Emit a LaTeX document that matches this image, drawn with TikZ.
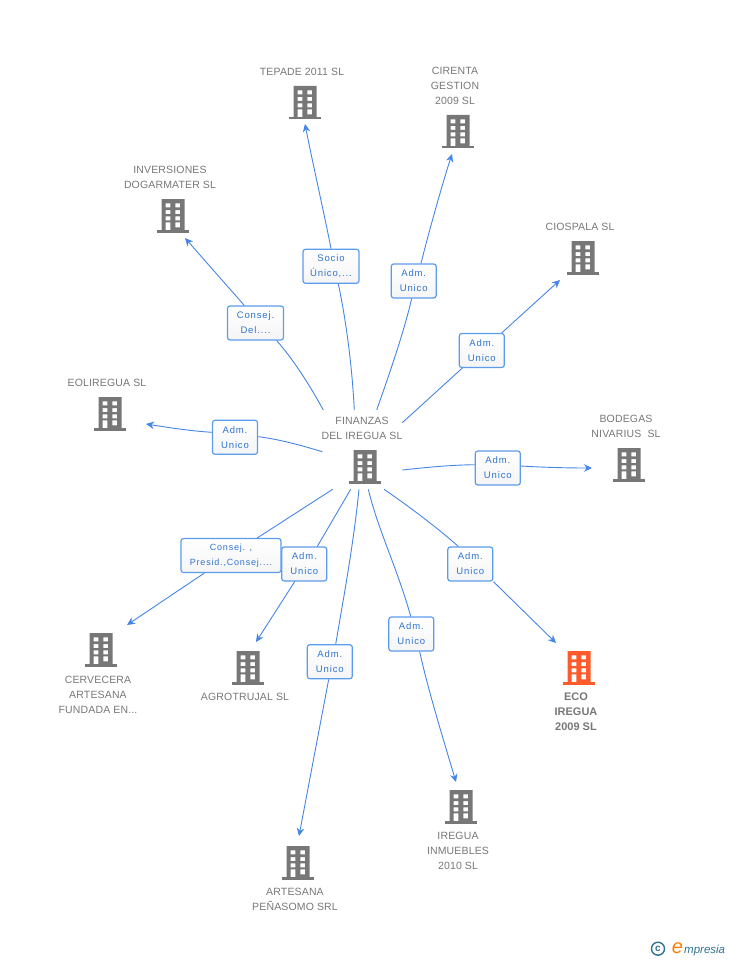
\documentclass[tikz,border=0pt]{standalone}
\usepackage{fontspec}
\setmainfont{Liberation Sans}
\newfontfamily\boxfont[LetterSpace=9]{Liberation Sans}
\newfontfamily\lblfont[LetterSpace=1.5]{Liberation Sans}
\usetikzlibrary{arrows.meta}
\definecolor{linkblue}{HTML}{4585E6}
\definecolor{boxblue}{HTML}{5C9CEC}
\definecolor{boxtext}{HTML}{2F74D0}
\definecolor{bldgray}{HTML}{777777}
\definecolor{bldorange}{HTML}{FF5A2B}
\definecolor{logoteal}{HTML}{2F7390}
\newcommand{\bldshape}[1]{%
  \fill[#1,even odd rule,shift={(path picture bounding box.center)}]
    (-11.5,-17) rectangle (11.5,14.5)
    (-7.3,-12.7) rectangle (-2.7,-8.7) (2.3,-12.7) rectangle (7,-8.7)
    (-7.3,-6) rectangle (-2.7,-2) (2.3,-6) rectangle (7,-2)
    (-7.3,0.3) rectangle (-2.7,4.3) (2.3,0.3) rectangle (7,4.3)
    (-7.3,6.3) rectangle (-2.7,14.5) (2.3,6.3) rectangle (7,11.3);
  \fill[#1,shift={(path picture bounding box.center)}] (-16,14) rectangle (16,16.5);
}
\tikzset{
  bld/.style={minimum width=33pt,minimum height=34pt,inner sep=0pt,path picture={\bldshape{#1}}},
  bld/.default=bldgray,
  lbl/.style={align=center,inner sep=0pt,text=bldgray,font=\lblfont\fontsize{10.5}{15}\selectfont},
  rel/.style={draw=boxblue,line width=1.2pt,rounded corners=2.5pt,top color=white,bottom color=black!4,
    text=boxtext,align=center,inner sep=0pt,minimum height=34pt,minimum width=45pt,
    font=\boxfont\fontsize{9.5}{15}\selectfont,execute at begin node={\vspace*{3pt}}},
  link/.style={draw=linkblue,line width=0.9pt},
  linkarr/.style={link,-{Stealth[length=8pt,width=7.5pt]}}
}
\begin{document}
\begin{tikzpicture}[x=1pt,y=-1pt]
\path[use as bounding box] (0,0) rectangle (728,960);
% Companies
\node[bld] (finanzas) at (365,467) {};
\node[bld] (tepade) at (305,103) {};
\node[bld] (cirenta) at (458,132) {};
\node[bld] (ciospala) at (583,258) {};
\node[bld] (bodegas) at (629,465) {};
\node[bld=bldorange] (eco) at (579,668) {};
\node[bld] (irregua) at (461,807) {};
\node[bld] (artesana) at (298,863) {};
\node[bld] (agrotrujal) at (248,668) {};
\node[bld] (cervecera) at (101,650) {};
\node[bld] (eoliregua) at (110,414) {};
\node[bld] (inversiones) at (173,216) {};
% Names
\node[lbl] (finanzasName) at (362,428.5) {FINANZAS\\DEL IREGUA SL};
\node[lbl] (tepadeName) at (302,72) {TEPADE 2011 SL};
\node[lbl] (cirentaName) at (455,86) {CIRENTA\\GESTION\\2009 SL};
\node[lbl] (ciospalaName) at (580,227) {CIOSPALA SL};
\node[lbl] (bodegasName) at (626,426.5) {BODEGAS\\NIVARIUS\ \ SL};
\node[lbl,font=\fontsize{11}{15}\selectfont\bfseries] (ecoName) at (576,712) {ECO\\IREGUA\\2009 SL};
\node[lbl] (irreguaName) at (458,851) {IREGUA\\INMUEBLES\\2010 SL};
\node[lbl] (artesanaName) at (295,899.5) {ARTESANA\\PEÑASOMO SRL};
\node[lbl] (agrotrujalName) at (245,697) {AGROTRUJAL SL};
\node[lbl] (cerveceraName) at (98,694.5) {CERVECERA\\ARTESANA\\FUNDADA EN...};
\node[lbl] (eolireguaName) at (107,383) {EOLIREGUA SL};
\node[lbl] (inversionesName) at (170,177.5) {INVERSIONES\\DOGARMATER SL};
% Relations
\node[rel,minimum width=56pt] (relTepade) at (331,266.3) {Socio\\Único,...};
\node[rel] (relCirenta) at (413.7,281) {Adm.\\Unico};
\node[rel] (relCiospala) at (481.8,350.5) {Adm.\\Unico};
\node[rel] (relBodegas) at (497.8,468) {Adm.\\Unico};
\node[rel] (relEco) at (470.3,564) {Adm.\\Unico};
\node[rel] (relIrregua) at (411.3,634) {Adm.\\Unico};
\node[rel] (relArtesana) at (329.8,661.7) {Adm.\\Unico};
\node[rel] (relAgrotrujal) at (304.3,564) {Adm.\\Unico};
\node[rel,minimum width=100pt,font=\boxfont\fontsize{9}{15}\selectfont] (relCervecera) at (231,555.5) {Consej. ,\\Presid.,Consej....};
\node[rel] (relEoliregua) at (235,437.3) {Adm.\\Unico};
\node[rel,minimum width=56pt] (relInversiones) at (255.5,323) {Consej.\\Del....};
% Arrow tips
\coordinate (tipTepade) at (305,124);
\coordinate (tipCirenta) at (452,154);
\coordinate (tipCiospala) at (560,280);
\coordinate (tipBodegas) at (592,468);
\coordinate (tipEco) at (556,643);
\coordinate (tipIrregua) at (456,782);
\coordinate (tipArtesana) at (299,836);
\coordinate (tipAgrotrujal) at (256,642);
\coordinate (tipCervecera) at (127,625);
\coordinate (tipEoliregua) at (146,424);
\coordinate (tipInversiones) at (185,238);
% Lines from the centre company
\coordinate (hubTepade) at (354.3,410);
\coordinate (hubCirenta) at (376.7,410);
\coordinate (hubCiospala) at (402.3,422.7);
\coordinate (hubBodegas) at (402.3,470);
\coordinate (hubEco) at (384,489.3);
\coordinate (hubIrregua) at (368.3,489.3);
\coordinate (hubArtesana) at (359,489.3);
\coordinate (hubAgrotrujal) at (350.7,489.3);
\coordinate (hubCervecera) at (332.7,489.3);
\coordinate (hubEoliregua) at (322.3,451.7);
\coordinate (hubInversiones) at (323.3,410);
\draw[link] (hubTepade) .. controls (352,365) and (346,320) .. (relTepade.south -| 338.3,0);
\draw[link] (hubCirenta) .. controls (390,372) and (403,335) .. (relCirenta.south -| 411.7,0);
\draw[link] (hubCiospala) -- (relCiospala.south -| 462.3,0);
\draw[link] (hubBodegas) .. controls (425,467.5) and (450,465) .. (relBodegas.west |- 0,464.7);
\draw[link] (hubEco) .. controls (410,507) and (440,530) .. (relEco.north -| 458.3,0);
\draw[link] (hubIrregua) .. controls (378,530) and (398,570) .. (relIrregua.north -| 410.7,0);
\draw[link] (hubArtesana) .. controls (354,540) and (345,590) .. (relArtesana.north -| 335.7,0);
\draw[link] (hubAgrotrujal) -- (relAgrotrujal.north -| 317.3,0);
\draw[link] (hubCervecera) -- (relCervecera.north -| 257.3,0);
\draw[link] (hubEoliregua) .. controls (300,445) and (278,439) .. (relEoliregua.east |- 0,436.7);
\draw[link] (hubInversiones) .. controls (308,382) and (292,358) .. (relInversiones.south -| 276.7,0);
% Lines to the other companies
\draw[linkarr] (relTepade.north -| 331,0) .. controls (326,222) and (312,160) .. (tipTepade);
\draw[linkarr] (relCirenta.north -| 421,0) .. controls (428,235) and (442,185) .. (tipCirenta);
\draw[linkarr] (relCiospala.north -| 501.7,0) -- (tipCiospala);
\draw[linkarr] (relBodegas.east |- 0,466) .. controls (545,467.5) and (570,468) .. (tipBodegas);
\draw[linkarr] (relEco.south east) -- (tipEco);
\draw[linkarr] (relIrregua.south -| 419.7,0) .. controls (428,690) and (445,745) .. (tipIrregua);
\draw[linkarr] (relArtesana.south -| 328.7,0) -- (tipArtesana);
\draw[linkarr] (relAgrotrujal.south -| 294.7,0) -- (tipAgrotrujal);
\draw[linkarr] (relCervecera.south -| 204.3,0) -- (tipCervecera);
\draw[linkarr] (relEoliregua.west |- 0,432.3) .. controls (190,431) and (165,427) .. (tipEoliregua);
\draw[linkarr] (relInversiones.north -| 244.3,0) -- (tipInversiones);
% Logo
\node[circle,draw=logoteal,line width=1.4pt,inner sep=0pt,minimum size=13pt,text=logoteal,font=\bfseries\fontsize{10}{10}\selectfont] (logoC) at (658,948.7) {c};
\node[text=orange,anchor=base,inner sep=0pt,font=\itshape\fontsize{20}{20}\selectfont] (logoE) at (677.5,953) {e};
\node[text=logoteal,anchor=base west,inner sep=0pt,font=\itshape\fontsize{11.5}{14}\selectfont] (logoName) at (684,953) {mpresia};
\end{tikzpicture}
\end{document}
